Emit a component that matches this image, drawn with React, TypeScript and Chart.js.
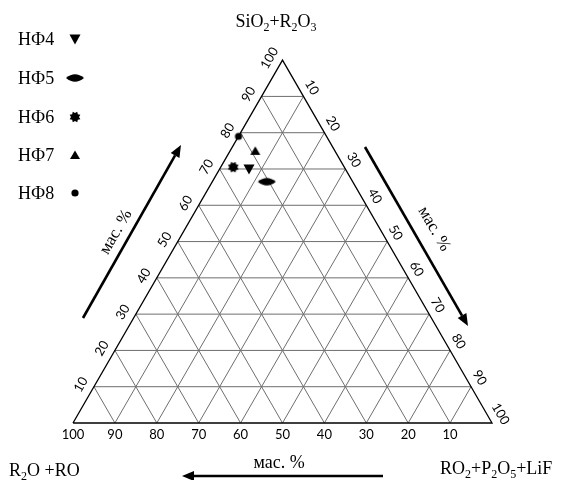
import React, { useEffect, useRef } from 'react';
import { Chart, registerables } from 'chart.js';

Chart.register(...registerables);

// ---- data (mass %) ----
const SERIES = ['НФ4', 'НФ5', 'НФ6', 'НФ7', 'НФ8'];
const SIO2_R2O3 = [70, 66.5, 70.5, 75, 79];
const RO2_P2O5_LIF = [7, 13, 3, 6, 0];
const R2O_RO = [23, 20.5, 26.5, 19, 21];
const MARKERS = ['triDown', 'lens', 'star', 'triUp', 'circle'];
const GRID_TICKS = [10, 20, 30, 40, 50, 60, 70, 80, 90];
const AXIS_LABELS = [10, 20, 30, 40, 50, 60, 70, 80, 90, 100];

const H = Math.sqrt(3) / 2;
const SIDE = 419;
const OX = 73;
const OY = 423;
const W = 563;
const HT = 480;

function toXY(top: number, right: number, left: number) {
  const s = top + right + left;
  const t = top / s;
  const r = right / s;
  return { x: r + t / 2, y: t * H };
}

function drawMarkerPath(ctx: CanvasRenderingContext2D, kind: string, cx: number, cy: number) {
  ctx.beginPath();
  if (kind === 'triDown') {
    ctx.moveTo(cx - 5.5, cy - 4.5);
    ctx.lineTo(cx + 5.5, cy - 4.5);
    ctx.lineTo(cx, cy + 5.5);
    ctx.closePath();
  } else if (kind === 'triUp') {
    ctx.moveTo(cx, cy - 4.5);
    ctx.lineTo(cx + 5, cy + 4);
    ctx.lineTo(cx - 5, cy + 4);
    ctx.closePath();
  } else if (kind === 'lens') {
    ctx.moveTo(cx - 9, cy);
    ctx.quadraticCurveTo(cx, cy - 7.5, cx + 9, cy);
    ctx.quadraticCurveTo(cx, cy + 7.5, cx - 9, cy);
    ctx.closePath();
  } else if (kind === 'star') {
    for (let i = 0; i < 16; i++) {
      const a = (Math.PI * 2 * i) / 16 + Math.PI / 8;
      const rr = i % 2 === 0 ? 5.8 : 4.0;
      const px = cx + rr * Math.cos(a);
      const py = cy + rr * Math.sin(a);
      if (i === 0) ctx.moveTo(px, py);
      else ctx.lineTo(px, py);
    }
    ctx.closePath();
  } else {
    ctx.arc(cx, cy, 3.6, 0, Math.PI * 2);
  }
  ctx.fillStyle = '#000';
  ctx.fill();
}

function makeMarker(kind: string) {
  const c = document.createElement('canvas');
  c.width = 22;
  c.height = 16;
  const ctx = c.getContext('2d')!;
  drawMarkerPath(ctx, kind, 11, 8);
  return c;
}

function drawRich(
  ctx: CanvasRenderingContext2D,
  parts: Array<[string, boolean]>,
  x: number,
  y: number,
  size: number,
  align: 'left' | 'center'
) {
  const big = `${size}px "Liberation Serif"`;
  const small = `${Math.round(size * 0.66)}px "Liberation Serif"`;
  let total = 0;
  const widths = parts.map(([s, sub]) => {
    ctx.font = sub ? small : big;
    const w = ctx.measureText(s).width;
    total += w;
    return w;
  });
  let cx = align === 'center' ? x - total / 2 : x;
  ctx.textAlign = 'left';
  ctx.textBaseline = 'alphabetic';
  parts.forEach(([s, sub], i) => {
    ctx.font = sub ? small : big;
    ctx.fillText(s, cx, sub ? y + size * 0.2 : y);
    cx += widths[i];
  });
}

function drawArrow(ctx: CanvasRenderingContext2D, x1: number, y1: number, x2: number, y2: number) {
  const ang = Math.atan2(y2 - y1, x2 - x1);
  const len = 12;
  const hw = 5;
  const bx = x2 - len * Math.cos(ang);
  const by = y2 - len * Math.sin(ang);
  ctx.save();
  ctx.strokeStyle = '#000';
  ctx.fillStyle = '#000';
  ctx.lineWidth = 2.6;
  ctx.beginPath();
  ctx.moveTo(x1, y1);
  ctx.lineTo(bx, by);
  ctx.stroke();
  ctx.beginPath();
  ctx.moveTo(x2, y2);
  ctx.lineTo(bx + hw * Math.sin(ang), by - hw * Math.cos(ang));
  ctx.lineTo(bx - hw * Math.sin(ang), by + hw * Math.cos(ang));
  ctx.closePath();
  ctx.fill();
  ctx.restore();
}

function rotText(ctx: CanvasRenderingContext2D, s: string, x: number, y: number, deg: number, font: string) {
  ctx.save();
  ctx.translate(x, y);
  ctx.rotate((deg * Math.PI) / 180);
  ctx.font = font;
  ctx.textAlign = 'center';
  ctx.textBaseline = 'middle';
  ctx.fillText(s, 0, 0);
  ctx.restore();
}

const ternaryPlugin = {
  id: 'ternaryDecor',
  afterDraw(chart: any) {
    const ctx: CanvasRenderingContext2D = chart.ctx;
    const xs = chart.scales.x;
    const ys = chart.scales.y;
    const P = (x: number, y: number) => ({ x: xs.getPixelForValue(x), y: ys.getPixelForValue(y) });
    ctx.save();
    ctx.fillStyle = '#000';
    const tickFont = '13px Lato';

    AXIS_LABELS.forEach((v) => {
      const f = v / 100;
      // bottom: R2O+RO
      const b = P(1 - f, 0);
      rotText(ctx, String(v), b.x, b.y + 12, 0, tickFont);
      // left: SiO2+R2O3
      const l = P(f / 2, f * H);
      rotText(ctx, String(v), l.x - 13, l.y - 2, -60, tickFont);
      // right: RO2+P2O5+LiF
      const r = P(f + (1 - f) / 2, (1 - f) * H);
      rotText(ctx, String(v), r.x + 8.5, r.y - 9, 60, tickFont);
    });

    drawRich(ctx, [['SiO', false], ['2', true], ['+R', false], ['2', true], ['O', false], ['3', true]], 276, 27, 18, 'center');
    drawRich(ctx, [['R', false], ['2', true], ['O +RO', false]], 9, 476, 18, 'left');
    drawRich(ctx, [['RO', false], ['2', true], ['+P', false], ['2', true], ['O', false], ['5', true], ['+LiF', false]], 440, 474, 18, 'left');

    const serif17 = '17px "Liberation Serif"';
    rotText(ctx, 'мас. %', 279, 463, 0, '18px "Liberation Serif"');
    rotText(ctx, 'мас. %', 116, 232, -60, serif17);
    rotText(ctx, 'мас. %', 434, 229, 60, serif17);

    drawArrow(ctx, 83, 318, 181, 145);
    drawArrow(ctx, 365, 147, 468, 326);
    drawArrow(ctx, 383, 476, 182, 476);

    const legendY = [39, 78, 117, 155, 193];
    SERIES.forEach((name, i) => {
      ctx.font = '18px "Liberation Serif"';
      ctx.textAlign = 'left';
      ctx.textBaseline = 'middle';
      ctx.fillStyle = '#000';
      ctx.fillText(name, 18, legendY[i] + 1);
      drawMarkerPath(ctx, MARKERS[i], 75, legendY[i]);
    });
    ctx.restore();
  },
};

export default function App() {
  const ref = useRef<HTMLCanvasElement | null>(null);
  useEffect(() => {
    if (!ref.current) return;
    const datasets: any[] = [];
    const gridStyle = { borderColor: '#6e6e6e', borderWidth: 1, pointRadius: 0, showLine: true, order: 2 };
    GRID_TICKS.forEach((k) => {
      const f = k / 100;
      datasets.push({ ...gridStyle, data: [{ x: f / 2, y: f * H }, { x: 1 - f / 2, y: f * H }] });
      datasets.push({ ...gridStyle, data: [{ x: 1 - f, y: 0 }, { x: (1 - f) / 2, y: (1 - f) * H }] });
      datasets.push({ ...gridStyle, data: [{ x: f, y: 0 }, { x: f + (1 - f) / 2, y: (1 - f) * H }] });
    });
    datasets.push({
      borderColor: '#000',
      borderWidth: 1.3,
      pointRadius: 0,
      showLine: true,
      order: 1,
      data: [{ x: 0, y: 0 }, { x: 1, y: 0 }, { x: 0.5, y: H }, { x: 0, y: 0 }],
    });
    SERIES.forEach((name, i) => {
      datasets.push({
        label: name,
        data: [toXY(SIO2_R2O3[i], RO2_P2O5_LIF[i], R2O_RO[i])],
        pointStyle: makeMarker(MARKERS[i]),
        pointRadius: 6,
        showLine: false,
        order: 0,
      });
    });
    const chart = new Chart(ref.current, {
      type: 'scatter',
      data: { datasets },
      options: {
        responsive: false,
        animation: false,
        events: [],
        layout: { padding: 0, autoPadding: false },
        scales: {
          x: { type: 'linear', display: false, min: -OX / SIDE, max: (W - OX) / SIDE },
          y: { type: 'linear', display: false, min: -(HT - OY) / SIDE, max: OY / SIDE },
        },
        plugins: { legend: { display: false }, tooltip: { enabled: false } },
      },
      plugins: [ternaryPlugin],
    });
    return () => chart.destroy();
  }, []);
  return (
    <div style={{ position: 'absolute', left: 0, top: 0, width: W, height: HT, background: '#fff' }}>
      <canvas ref={ref} width={W} height={HT} style={{ display: 'block' }} />
    </div>
  );
}
